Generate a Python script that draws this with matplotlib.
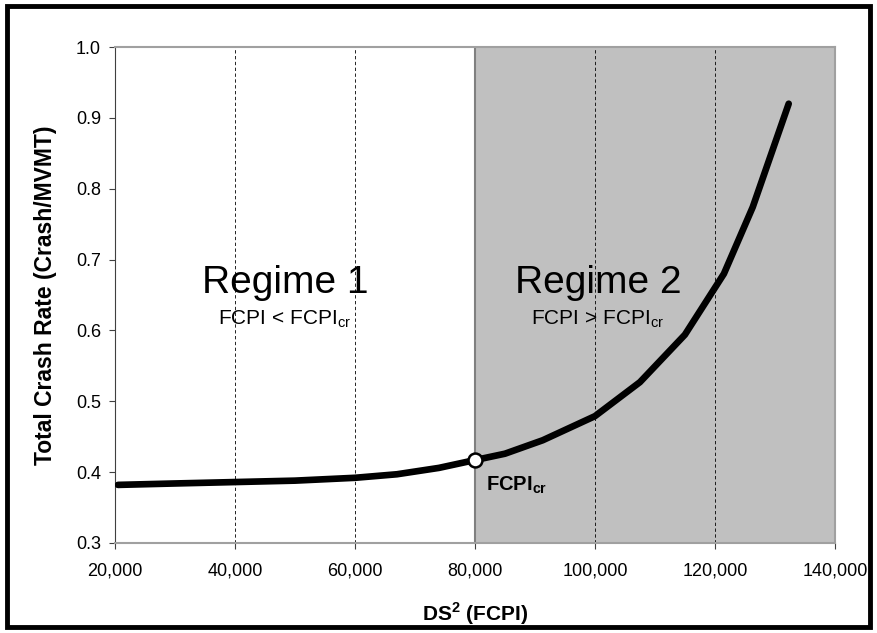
import matplotlib.pyplot as plt
from matplotlib.patches import Rectangle

# Curve (DS^2 vs total crash rate).
ds2 = [20500, 30000, 40000, 50000, 60000, 67000, 74000, 80000,
	85000, 91300, 100000, 107500, 115000, 121500, 126300, 132300]
crash_rate = [0.382, 0.384, 0.386, 0.388, 0.392, 0.397, 0.406, 0.417,
	0.426, 0.445, 0.479, 0.527, 0.594, 0.680, 0.774, 0.920]

fcpi_cr = 80000
fcpi_cr_rate = 0.417
x_ticks = [20000, 40000, 60000, 80000, 100000, 120000, 140000]
y_ticks = [0.3, 0.4, 0.5, 0.6, 0.7, 0.8, 0.9, 1.0]
grid_x = [40000, 60000, 100000, 120000]

plt.rcParams['font.family'] = ['Liberation Sans', 'DejaVu Sans']
plt.rcParams['mathtext.fontset'] = 'custom'
plt.rcParams['mathtext.rm'] = 'Liberation Sans'
plt.rcParams['mathtext.bf'] = 'Liberation Sans:bold'

fig = plt.figure(figsize=(8.77, 6.33), dpi=100)
ax = fig.add_axes([0.1311, 0.1422, 0.8209, 0.7835])

# Regime 2 shading.
ax.axvspan(fcpi_cr, 140000, color='#c0c0c0', zorder=0, lw=0)
ax.axvline(fcpi_cr, color='#808080', lw=1.5, zorder=1)
for gx in grid_x:
	ax.axvline(gx, color='black', lw=0.6, ls=(0, (4, 3)), zorder=1)

ax.plot(ds2, crash_rate, color='black', lw=4.8, solid_capstyle='round',
	solid_joinstyle='round', zorder=3)
ax.plot([fcpi_cr], [fcpi_cr_rate], 'o', ms=10, mfc='white', mec='black',
	mew=1.8, zorder=4)

ax.set_xlim(20000, 140000)
ax.set_ylim(0.3, 1.0)
ax.set_xticks(x_ticks)
ax.set_xticklabels(['{:,}'.format(v) for v in x_ticks], fontsize=13)
ax.set_yticks(y_ticks)
ax.set_yticklabels(['%.1f' % v for v in y_ticks], fontsize=13)
ax.tick_params(direction='out', length=4, width=0.8, color='#404040', pad=6)
ax.tick_params(axis='x', pad=10)

for side in ['top', 'right', 'bottom']:
	ax.spines[side].set_color('#a0a0a0')
	ax.spines[side].set_linewidth(1.5)
ax.spines['left'].set_color('#404040')
ax.spines['left'].set_linewidth(0.8)

ax.set_xlabel('DS$^{\\mathbf{2}}$ (FCPI)', fontsize=15, fontweight='bold', labelpad=15)
ax.set_ylabel('Total Crash Rate (Crash/MVMT)', fontsize=16.5, fontweight='bold', labelpad=14)

ax.text(48300, 0.653, 'Regime 1', fontsize=28, ha='center', va='baseline')
ax.text(48300, 0.608, 'FCPI < FCPI$_{\\mathregular{cr}}$', fontsize=15, ha='center', va='baseline')
ax.text(100500, 0.653, 'Regime 2', fontsize=28, ha='center', va='baseline')
ax.text(100500, 0.608, 'FCPI > FCPI$_{\\mathregular{cr}}$', fontsize=15, ha='center', va='baseline')
ax.text(81800, 0.374, 'FCPI$_{\\mathbf{cr}}$', fontsize=14.5, fontweight='bold', ha='left', va='baseline')

# Black frame round the whole chart.
fig.patches.append(Rectangle((0.0085, 0.0095), 0.983, 0.981, transform=fig.transFigure,
	fill=False, ec='black', lw=3.5))

plt.savefig('out.png', dpi=100)
